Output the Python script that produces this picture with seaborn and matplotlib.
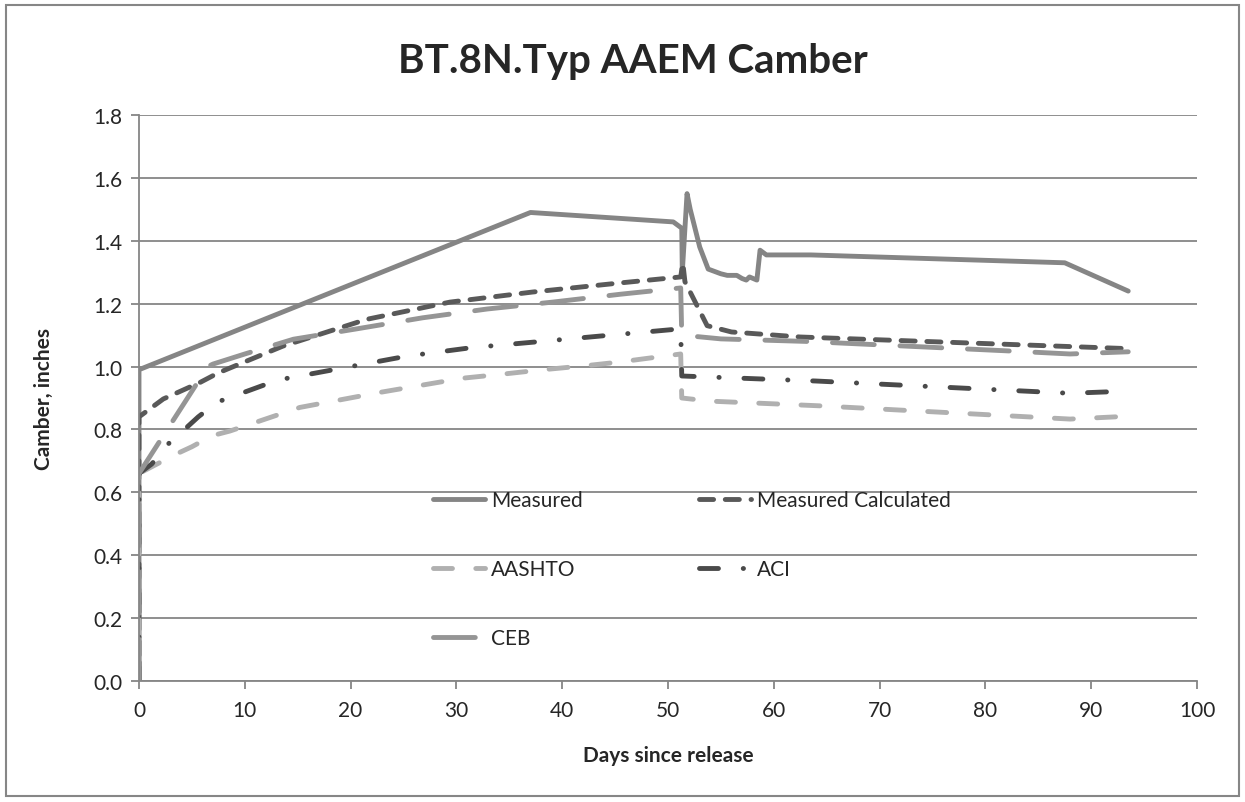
import matplotlib
matplotlib.use("Agg")
import matplotlib.pyplot as plt
import seaborn as sns
import pandas as pd
from matplotlib.patches import Rectangle

# ---- data ----
measured_days = [0, 0, 37, 50.5, 51.3, 51.35, 51.8, 52.1, 53.0, 53.8, 55.0, 55.6, 56.5, 57.0, 57.4, 57.7, 58.4, 58.7, 59.3, 63.5, 87.5, 93.5]
measured_camber = [0, 0.99, 1.49, 1.46, 1.44, 1.30, 1.55, 1.50, 1.38, 1.31, 1.295, 1.29, 1.29, 1.28, 1.275, 1.285, 1.275, 1.37, 1.355, 1.355, 1.33, 1.24]

mc_days = [0, 0, 2.3, 5.8, 7.5, 10, 13.6, 21.5, 29.4, 37.2, 45.5, 51.2, 51.4, 51.6, 53.7, 56, 62.5, 93.5]
mc_camber = [0, 0.84, 0.897, 0.95, 0.98, 1.015, 1.065, 1.15, 1.205, 1.237, 1.266, 1.285, 1.33, 1.27, 1.13, 1.11, 1.094, 1.057]

aashto_days = [0, 0, 3.4, 5, 6.9, 8.6, 15.2, 19, 22.8, 26.6, 30.6, 34.4, 38.2, 42.3, 45.3, 51.2, 51.3, 54, 61, 64.4, 88, 93.5]
aashto_camber = [0, 0.66, 0.72, 0.745, 0.78, 0.795, 0.87, 0.894, 0.918, 0.94, 0.963, 0.976, 0.99, 1.003, 1.014, 1.04, 0.90, 0.89, 0.88, 0.875, 0.833, 0.842]

aci_days = [0, 0, 1.2, 2.8, 4.3, 5.6, 7.4, 13.1, 19.2, 25.3, 31.4, 37.4, 43.6, 51.2, 51.3, 64, 88, 93.5]
aci_camber = [0, 0.66, 0.69, 0.755, 0.80, 0.84, 0.887, 0.957, 0.995, 1.033, 1.06, 1.078, 1.097, 1.12, 0.97, 0.954, 0.915, 0.922]

ceb_days = [0, 0, 6.5, 7, 10, 14.6, 20.6, 26.8, 32.9, 39.1, 45.5, 51.2, 51.3, 55, 63, 82, 88, 93.5]
ceb_camber = [0, 0.66, 1.0, 1.008, 1.04, 1.087, 1.12, 1.155, 1.183, 1.205, 1.23, 1.25, 1.10, 1.088, 1.08, 1.05, 1.04, 1.047]

x_ticks = list(range(0, 101, 10))
y_ticks = [0.0, 0.2, 0.4, 0.6, 0.8, 1.0, 1.2, 1.4, 1.6, 1.8]

sns.set_style("white")
plt.rcParams['font.family'] = ['Lato', 'DejaVu Sans']

fig = plt.figure(figsize=(12.45, 8.03), dpi=100)
ax = fig.add_axes([139/1245, 1-682/803, (1197-139)/1245, (682-116)/803])

lw = 3.5
series = [
    ("Measured", measured_days, measured_camber, "#858585", None),
    ("Measured Calculated", mc_days, mc_camber, "#595959", (2.9, 2.4)),
    ("AASHTO", aashto_days, aashto_camber, "#b0b0b0", (3.9, 4.8)),
    ("ACI", aci_days, aci_camber, "#4a4a4a", (3.9, 5.1, 0.05, 5.1)),
    ("CEB", ceb_days, ceb_camber, "#959595", (8.6, 5.3)),
]

handles = {}
for name, xs, ys, col, dash in series:
    df = pd.DataFrame({"day": xs, "camber": ys})
    sns.lineplot(data=df, x="day", y="camber", ax=ax, sort=False, estimator=None,
                 color=col, linewidth=lw, label=name)
    line = ax.lines[-1]
    line.set_solid_capstyle('round')
    line.set_solid_joinstyle('round')
    if dash is not None:
        line.set_dashes(dash)
        line.set_dash_capstyle('round')
    handles[name] = line

ax.set_xlim(0, 100)
ax.set_ylim(0, 1.8)
ax.set_xticks(x_ticks)
ax.set_yticks(y_ticks)
ax.set_yticklabels([f"{v:.1f}" for v in y_ticks])
ax.grid(axis='y', color='#868686', linewidth=1.3)
ax.set_axisbelow(True)
for s in ['top', 'right']:
    ax.spines[s].set_visible(False)
for s in ['left', 'bottom']:
    ax.spines[s].set_color('#868686')
    ax.spines[s].set_linewidth(1.3)
ax.tick_params(axis='both', which='major', labelsize=15, length=6, width=1.3,
               color='#868686', direction='out', pad=6)
ax.tick_params(axis='x', pad=8)
ax.tick_params(left=True, bottom=True)

ax.set_xlabel("Days since release", fontsize=15, fontweight='bold', labelpad=18)
ax.set_ylabel("Camber, inches", fontsize=15, fontweight='bold', labelpad=28)
fig.text(0.508, 0.923, "BT.8N.Typ AAEM Camber", ha='center', va='center',
         fontsize=29, fontweight='bold')

order = ["Measured", "AASHTO", "CEB", "Measured Calculated", "ACI"]
leg = ax.legend([handles[n] for n in order], order, ncol=2, frameon=False,
                loc='upper left', bbox_to_anchor=(0.27, 0.352), fontsize=15,
                handlelength=2.5, handletextpad=0.3, columnspacing=5.55,
                labelspacing=2.35, borderaxespad=0)

fig.patches.append(Rectangle((6/1245, 6/803), 1-12/1245, 1-12/803, transform=fig.transFigure,
                             fill=False, edgecolor='#868686', linewidth=1.5))

fig.savefig("out.png", dpi=100)
